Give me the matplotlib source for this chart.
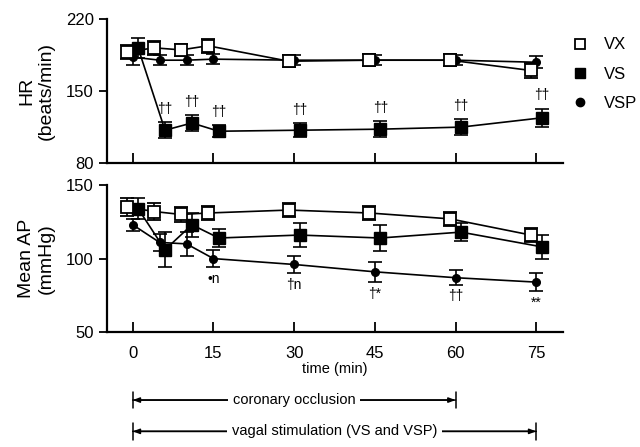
import matplotlib
matplotlib.use("Agg")
import matplotlib.pyplot as plt
import numpy as np

plt.rcParams['font.family'] = ['Liberation Sans', 'DejaVu Sans']

times = [0, 5, 10, 15, 30, 45, 60, 75]
x_ticks = [0, 15, 30, 45, 60, 75]

# Heart rate (beats/min)
hr_vx = [188, 192, 190, 194, 179, 180, 180, 170]
hr_vx_err = [7, 7, 6, 7, 6, 6, 6, 7]
hr_vs = [192, 112, 119, 111, 112, 113, 115, 124]
hr_vs_err = [10, 8, 8, 6, 7, 8, 8, 9]
hr_vsp = [183, 180, 180, 181, 180, 180, 180, 178]
hr_vsp_err = [8, 5, 5, 5, 5, 5, 5, 6]
hr_sig = ['', '††', '††', '††', '††', '††', '††', '††']

# Mean arterial pressure (mmHg)
ap_vx = [135, 132, 130, 131, 133, 131, 127, 116]
ap_vx_err = [6, 6, 5, 5, 5, 5, 5, 5]
ap_vs = [134, 106, 123, 114, 116, 114, 118, 108]
ap_vs_err = [7, 12, 8, 6, 8, 9, 6, 8]
ap_vsp = [123, 111, 110, 100, 96, 91, 87, 84]
ap_vsp_err = [4, 6, 8, 6, 6, 7, 5, 6]
ap_sig = ['', '', '', '•n', '†n', '†*', '††', '**']

periods = [("coronary occlusion", 0, 60), ("vagal stimulation (VS and VSP)", 0, 75)]

offs = {'vx': -1.0, 'vs': 1.0, 'vsp': 0.0}
t = np.array(times, dtype=float)

fig = plt.figure(figsize=(6.4, 4.47), dpi=100)
ax1 = fig.add_axes([0.167, 0.635, 0.713, 0.3225])
ax2 = fig.add_axes([0.167, 0.257, 0.713, 0.329])

def style(ax):
    for s in ['top', 'right']:
        ax.spines[s].set_visible(False)
    ax.spines['left'].set_linewidth(1.6)
    ax.spines['bottom'].set_linewidth(1.6)
    ax.set_xlim(-4.8, 80)
    ax.set_xticks(x_ticks)
    ax.tick_params(axis='x', direction='in', length=7, width=1.3)
    ax.tick_params(axis='y', direction='out', length=6, width=1.3, labelsize=12)

def draw(ax, vx, vxe, vs, vse, vsp, vspe):
    kw = dict(color='black', ecolor='black', elinewidth=1.2, capsize=5, capthick=1.2, lw=1.2)
    ax.errorbar(t + offs['vsp'], vsp, yerr=vspe, marker='o', ms=5.5, mfc='black', mec='black', zorder=3, **kw)
    ax.errorbar(t + offs['vs'], vs, yerr=vse, marker='s', ms=8, mfc='black', mec='black', zorder=4, **kw)
    ax.errorbar(t + offs['vx'], vx, yerr=vxe, marker='s', ms=8, mfc='white', mec='black', mew=1.3, zorder=5, **kw)

style(ax1)
draw(ax1, hr_vx, hr_vx_err, hr_vs, hr_vs_err, hr_vsp, hr_vsp_err)
ax1.set_ylim(80, 220)
ax1.set_yticks([80, 150, 220])
ax1.tick_params(axis='x', labelbottom=False)
ax1.set_ylabel("HR\n(beats/min)", fontsize=14, labelpad=8)
for ti, v, e, s in zip(times, hr_vs, hr_vs_err, hr_sig):
    if s:
        ax1.text(ti + offs['vs'], v + e + 6, s, ha='center', va='bottom', fontsize=10)

style(ax2)
draw(ax2, ap_vx, ap_vx_err, ap_vs, ap_vs_err, ap_vsp, ap_vsp_err)
ax2.set_ylim(50, 150)
ax2.set_yticks([50, 100, 150])
ax2.tick_params(axis='x', labelsize=12, pad=10)
ax2.set_ylabel("Mean AP\n(mmHg)", fontsize=14, labelpad=8)
ax2.set_xlabel("time (min)", fontsize=10.5, labelpad=1)
for ti, v, e, s in zip(times, ap_vsp, ap_vsp_err, ap_sig):
    if s:
        ax2.text(ti + offs['vsp'], v - e - 3, s, ha='center', va='top', fontsize=10)

# legend
from matplotlib.lines import Line2D
handles = [Line2D([], [], ls='none', marker='s', ms=7, mfc='white', mec='black', mew=1.3),
           Line2D([], [], ls='none', marker='s', ms=7, mfc='black', mec='black'),
           Line2D([], [], ls='none', marker='o', ms=6, mfc='black', mec='black')]
fig.legend(handles, ['VX', 'VS', 'VSP'], loc='upper left', bbox_to_anchor=(0.87, 0.95),
           frameon=False, fontsize=12, handlelength=1.0, handletextpad=0.9, labelspacing=0.85)

# period arrows
ys = [0.105, 0.035]
for (label, x0, x1), yf in zip(periods, ys):
    ax2.annotate('', xy=(x0, yf), xytext=(x1, yf), xycoords=('data', 'figure fraction'),
                 textcoords=('data', 'figure fraction'),
                 arrowprops=dict(arrowstyle='|-|,widthA=0.6,widthB=0.6', lw=1.1, color='black',
                                 shrinkA=0, shrinkB=0), annotation_clip=False)
    for xe in (x0, x1):
        ax2.annotate('', xy=(xe, yf), xytext=((x0 + x1) / 2, yf), xycoords=('data', 'figure fraction'),
                     textcoords=('data', 'figure fraction'),
                     arrowprops=dict(arrowstyle='-|>,head_length=0.4,head_width=0.15', lw=1.1,
                                     color='black', shrinkA=0, shrinkB=0), annotation_clip=False)
    ax2.annotate(label, xy=((x0 + x1) / 2, yf), xycoords=('data', 'figure fraction'),
                 ha='center', va='center', fontsize=10.5, annotation_clip=False,
                 bbox=dict(boxstyle='square,pad=0.3', fc='white', ec='none'))

fig.savefig('out.png', dpi=100)
